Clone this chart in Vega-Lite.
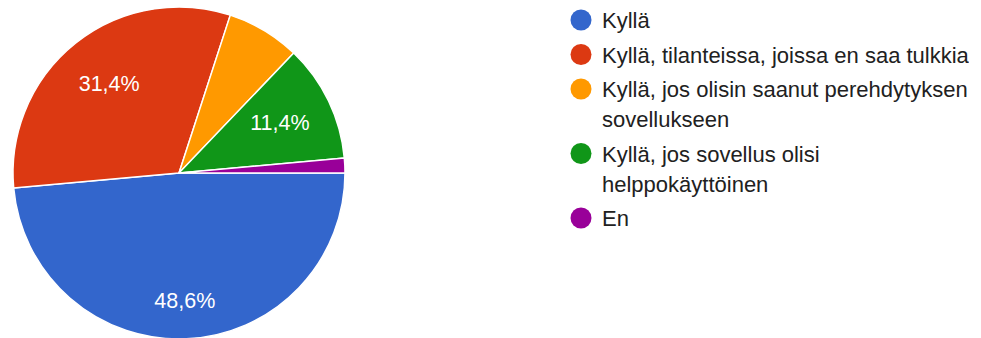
{
  "$schema": "https://vega.github.io/schema/vega-lite/v6.json",
  "width": 358,
  "height": 346,
  "padding": 0,
  "autosize": {"type": "pad"},
  "background": "white",
  "config": {"view": {"stroke": null}, "font": "Liberation Sans"},
  "data": {
    "values": [
      {"answer": "Kyllä", "count": 34, "label": "48,6%"},
      {"answer": "Kyllä, tilanteissa, joissa en saa tulkkia", "count": 22, "label": "31,4%"},
      {"answer": "Kyllä, jos olisin saanut perehdytyksen sovellukseen", "count": 5, "label": ""},
      {"answer": "Kyllä, jos sovellus olisi helppokäyttöinen", "count": 8, "label": "11,4%"},
      {"answer": "En", "count": 1, "label": ""}
    ]
  },
  "transform": [{"window": [{"op": "row_number", "as": "idx"}]}],
  "encoding": {
    "theta": {
      "field": "count",
      "type": "quantitative",
      "stack": true,
      "scale": {"range": [1.5707963, 7.8539816], "nice": false}
    },
    "order": {"field": "idx", "type": "quantitative"},
    "color": {
      "field": "answer",
      "type": "nominal",
      "scale": {
        "domain": [
          "Kyllä",
          "Kyllä, tilanteissa, joissa en saa tulkkia",
          "Kyllä, jos olisin saanut perehdytyksen sovellukseen",
          "Kyllä, jos sovellus olisi helppokäyttöinen",
          "En"
        ],
        "range": ["#3366cc", "#dc3912", "#ff9900", "#109618", "#990099"]
      },
      "legend": {
        "orient": "none",
        "legendX": 570,
        "legendY": 9,
        "title": null,
        "symbolType": "circle",
        "symbolSize": 441,
        "symbolStrokeWidth": 0,
        "symbolOpacity": 1,
        "labelFont": "Liberation Sans",
        "labelFontSize": 22,
        "labelColor": "#212121",
        "labelLimit": 500,
        "labelOffset": 10,
        "labelBaseline": "alphabetic",
        "rowPadding": 11.5,
        "labelExpr": "datum.label === 'Kyllä, jos olisin saanut perehdytyksen sovellukseen' ? ['Kyllä, jos olisin saanut perehdytyksen', 'sovellukseen'] : datum.label === 'Kyllä, jos sovellus olisi helppokäyttöinen' ? ['Kyllä, jos sovellus olisi', 'helppokäyttöinen'] : datum.label",
        "encoding": {
          "labels": {"dy": {"value": 8}, "lineHeight": {"value": 30}}
        }
      }
    }
  },
  "layer": [
    {"mark": {"type": "arc", "outerRadius": 166, "stroke": "white", "strokeWidth": 1.5}},
    {
      "mark": {"type": "text", "fontSize": 21.5, "font": "Liberation Sans", "align": "center", "baseline": "middle", "radius": 112},
      "encoding": {
        "text": {"condition": {"test": "datum.answer === 'Kyllä'", "value": ""}, "field": "label"},
        "fill": {"value": "white"}
      }
    },
    {
      "transform": [{"filter": "datum.answer === 'Kyllä'"}],
      "mark": {"type": "text", "fontSize": 21.5, "font": "Liberation Sans", "align": "center", "baseline": "middle", "radius": 129},
      "encoding": {
        "text": {"field": "label"},
        "fill": {"value": "white"}
      }
    }
  ]
}
